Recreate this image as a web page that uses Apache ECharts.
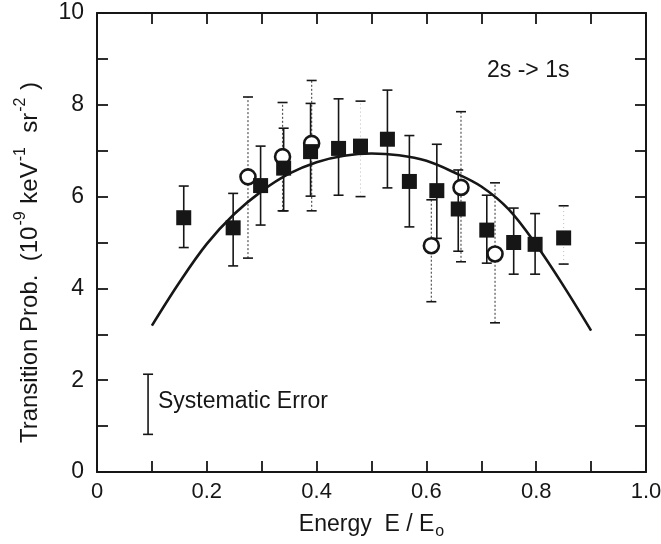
<!DOCTYPE html>
<html>
<head>
<meta charset="utf-8">
<script src="https://cdn.jsdelivr.net/npm/echarts@6/dist/echarts.min.js"></script>
<style>
  html, body { margin: 0; padding: 0; background: #fff; }
  #chart { width: 661px; height: 544px; }
</style>
</head>
<body>
<div id="chart"></div>
<script>
  // filled squares
  var squareX = [0.158, 0.248, 0.298, 0.340, 0.389, 0.440, 0.480, 0.529, 0.569, 0.619, 0.658, 0.710, 0.759, 0.798, 0.850];
  var squareY = [5.54, 5.32, 6.24, 6.62, 6.98, 7.05, 7.10, 7.25, 6.33, 6.13, 5.73, 5.27, 5.00, 4.96, 5.10];
  var squareLo = [4.89, 4.49, 5.38, 5.69, 6.01, 6.03, 6.00, 6.19, 5.34, 5.09, 4.81, 4.55, 4.31, 4.31, 4.53];
  var squareHi = [6.23, 6.07, 7.10, 7.49, 8.03, 8.13, 8.08, 8.32, 7.33, 7.14, 6.58, 6.03, 5.75, 5.63, 5.80];
  // squares whose bars show only the caps
  var capOnly = [6, 14];

  // open circles
  var circleX = [0.275, 0.338, 0.391, 0.609, 0.663, 0.725];
  var circleY = [6.43, 6.87, 7.16, 4.93, 6.20, 4.75];
  var circleLo = [4.66, 5.69, 5.69, 3.71, 4.58, 3.25];
  var circleHi = [8.17, 8.05, 8.53, 5.93, 7.85, 6.30];

  // theory curve
  var curveX = [0.10, 0.15, 0.20, 0.25, 0.30, 0.35, 0.40, 0.45, 0.50, 0.55, 0.60, 0.65, 0.70, 0.75, 0.80, 0.85, 0.90];
  var curveY = [3.19, 4.13, 4.97, 5.62, 6.12, 6.50, 6.75, 6.89, 6.94, 6.90, 6.78, 6.53, 6.22, 5.72, 4.95, 4.05, 3.08];

  // systematic error bar
  var sysX = 0.093;
  var sysLo = 0.82;
  var sysHi = 2.13;

  var xTicks = ['0', '0.2', '0.4', '0.6', '0.8', '1.0'];
  var yTicks = ['0', '2', '4', '6', '8', '10'];

  var font = '"Liberation Sans", Arial, Helvetica, sans-serif';
  var ink = '#161616';

  function errBar (capHalf, lineStyle) {
    return function (params, api) {
      var x = api.value(0);
      var lo = api.coord([x, api.value(1)]);
      var hi = api.coord([x, api.value(2)]);
      var cap = {stroke: ink, lineWidth: 1.6};
      return {
        type: 'group',
        children: [
          {type: 'line', shape: {x1: lo[0], y1: lo[1], x2: hi[0], y2: hi[1]}, style: lineStyle},
          {type: 'line', shape: {x1: lo[0] - capHalf, y1: lo[1], x2: lo[0] + capHalf, y2: lo[1]}, style: cap},
          {type: 'line', shape: {x1: hi[0] - capHalf, y1: hi[1], x2: hi[0] + capHalf, y2: hi[1]}, style: cap}
        ]
      };
    };
  }

  var solidErr = [], faintErr = [];
  squareX.forEach(function (x, i) {
    var row = [x, squareLo[i], squareHi[i]];
    if (capOnly.indexOf(i) >= 0) faintErr.push(row); else solidErr.push(row);
  });
  var circleErr = circleX.map(function (x, i) { return [x, circleLo[i], circleHi[i]]; });

  var axisBase = {
    type: 'value',
    min: 0,
    axisLine: {show: true, onZero: false, lineStyle: {color: ink, width: 2}},
    axisTick: {show: true, inside: true, length: 11, lineStyle: {color: ink, width: 1.8}},
    splitLine: {show: false}
  };

  var myChart = echarts.init(document.getElementById('chart'));
  myChart.setOption({
    animation: false,
    backgroundColor: '#fff',
    grid: {left: 97, right: 15, top: 13, bottom: 72, containLabel: false, outerBoundsMode: 'none'},
    xAxis: [
      Object.assign({}, axisBase, {
        position: 'bottom', max: 1, interval: 0.1,
        axisLabel: {
          fontFamily: font, fontSize: 22, color: ink, margin: 9,
          formatter: function (v) {
            var k = Math.round(v * 10);
            return k % 2 === 0 ? xTicks[k / 2] : '';
          }
        },
        name: '{a|Energy  E / E}{sub|o}',
        nameLocation: 'middle',
        nameGap: 38,
        nameTextStyle: {
          rich: {
            a: {fontFamily: font, fontSize: 23, color: ink},
            sub: {fontFamily: font, fontSize: 16, color: ink, padding: [14, 0, 0, 1]}
          }
        }
      }),
      Object.assign({}, axisBase, {position: 'top', max: 1, interval: 0.1, axisLabel: {show: false}})
    ],
    yAxis: [
      Object.assign({}, axisBase, {
        position: 'left', max: 10, interval: 1,
        axisLabel: {
          fontFamily: font, fontSize: 23, color: ink, margin: 13,
          formatter: function (v) {
            return v % 2 === 0 ? yTicks[v / 2] : '';
          }
        },
        name: '{a|Transition Prob.  (10}{sup|-9}{a| keV}{sup|-1}{a|  sr}{sup|-2}{a| )}',
        nameLocation: 'middle',
        nameGap: 50,
        nameTextStyle: {
          padding: [0, 40, 0, 0],
          rich: {
            a: {fontFamily: font, fontSize: 24, color: ink},
            sup: {fontFamily: font, fontSize: 16, color: ink, padding: [0, 1, 18, 1]}
          }
        }
      }),
      Object.assign({}, axisBase, {position: 'right', max: 10, interval: 1, axisLabel: {show: false}})
    ],
    graphic: [
      {type: 'text', left: 487, top: 59, style: {text: '2s -> 1s', font: '23px ' + font, fill: ink}},
      {type: 'text', left: 158, top: 390, style: {text: 'Systematic Error', font: '23px ' + font, fill: ink}}
    ],
    series: [
      {
        type: 'custom',
        renderItem: errBar(5, {stroke: '#555', lineWidth: 1.2, lineDash: [2, 2]}),
        data: circleErr,
        z: 1
      },
      {
        type: 'custom',
        renderItem: errBar(5, {stroke: '#bbb', lineWidth: 1, lineDash: [1, 3]}),
        data: faintErr,
        z: 1
      },
      {
        type: 'custom',
        renderItem: errBar(5, {stroke: ink, lineWidth: 1.6}),
        data: solidErr,
        z: 2
      },
      {
        type: 'custom',
        renderItem: errBar(5, {stroke: ink, lineWidth: 1.6}),
        data: [[sysX, sysLo, sysHi]],
        z: 2
      },
      {
        type: 'line',
        data: curveX.map(function (x, i) { return [x, curveY[i]]; }),
        smooth: 0.35,
        showSymbol: false,
        lineStyle: {color: ink, width: 2.6},
        z: 3
      },
      {
        type: 'scatter',
        data: circleX.map(function (x, i) { return [x, circleY[i]]; }),
        symbol: 'circle',
        symbolSize: 15,
        itemStyle: {color: '#fff', borderColor: ink, borderWidth: 2.6, opacity: 1},
        z: 4
      },
      {
        type: 'scatter',
        data: squareX.map(function (x, i) { return [x, squareY[i]]; }),
        symbol: 'rect',
        symbolSize: 15,
        itemStyle: {color: ink, opacity: 1},
        z: 5
      }
    ]
  });
</script>
</body>
</html>
